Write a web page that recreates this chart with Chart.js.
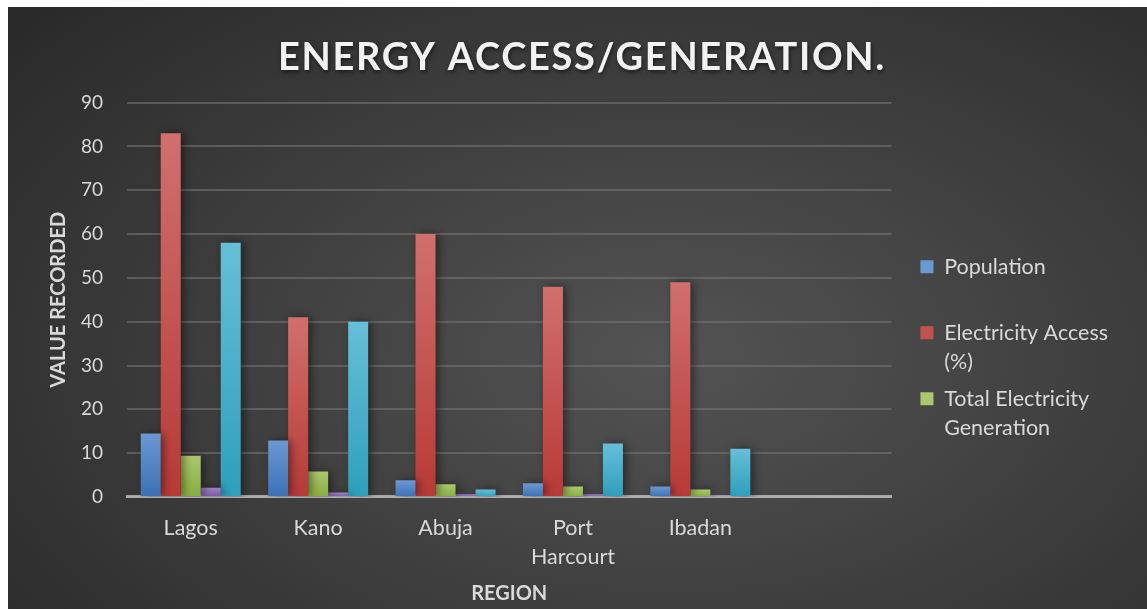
<!DOCTYPE html>
<html>
<head>
<meta charset="utf-8">
<script src="https://cdn.jsdelivr.net/npm/chart.js@4/dist/chart.umd.min.js"></script>
<style>
  html, body { margin: 0; padding: 0; background: #ffffff; }
  #wrap {
    position: absolute; left: 8px; top: 7px; width: 1139px; height: 602px;
    background: radial-gradient(ellipse 75% 85% at 58% 58%, #535353 0%, #414141 45%, #2a2a2a 100%);
  }
</style>
</head>
<body>
<div id="wrap"><canvas id="energyChart"></canvas></div>
<script>
// values
const regions = ['Lagos', 'Kano', 'Abuja', ['Port', 'Harcourt'], 'Ibadan', ''];
const population = [14.5, 12.9, 3.8, 3.1, 2.4, null];
const electricityAccess = [83, 41, 60, 48, 49, null];
const totalGeneration = [9.4, 5.8, 2.9, 2.4, 1.7, null];
const series4 = [2.1, 1.0, 0.6, 0.6, 0.35, null];
const series5 = [58, 40, 1.7, 12.2, 11, null];
const yMin = 0, yMax = 90, yStep = 10;

const textColor = '#d9d9d9';
const fontFamily = 'Lato, "Open Sans", sans-serif';

// each bar gets a lighter-top vertical gradient
function barGradient(top, bottom) {
    return (c) => {
        const chart = c.chart;
        if (!chart.chartArea || c.parsed == null) return bottom;
        const y = chart.scales.y;
        const y0 = y.getPixelForValue(0);
        const y1 = y.getPixelForValue(c.parsed.y);
        if (!isFinite(y1) || y1 === y0) return bottom;
        const g = chart.ctx.createLinearGradient(0, y1, 0, y0);
        g.addColorStop(0, top);
        g.addColorStop(1, bottom);
        return g;
    };
}

const barShadow = {
    id: 'barShadow',
    beforeDatasetsDraw(chart) {
        const ctx = chart.ctx;
        ctx.save();
        ctx.shadowColor = 'rgba(0,0,0,0.45)';
        ctx.shadowBlur = 8;
        ctx.shadowOffsetX = 3;
        ctx.shadowOffsetY = 0;
    },
    afterDatasetsDraw(chart) {
        chart.ctx.restore();
    }
};

// spaced-out title with a soft shadow, legend nudged away from the plot
const chartTweaks = {
    id: 'chartTweaks',
    afterInit(chart) {
        const tb = chart.titleBlock;
        const origDraw = tb.draw.bind(tb);
        tb.draw = function (area) {
            const ctx = this.ctx;
            ctx.save();
            ctx.translate(10, 0);
            ctx.letterSpacing = '1.7px';
            ctx.shadowColor = 'rgba(0,0,0,0.55)';
            ctx.shadowBlur = 4;
            ctx.shadowOffsetX = 1;
            ctx.shadowOffsetY = 2;
            origDraw(area);
            ctx.restore();
        };
    },
    afterLayout(chart) {
        const lg = chart.legend;
        lg.left += 21; lg.right += 21;
        lg.top += 43; lg.bottom += 43;
    }
};

new Chart(document.getElementById('energyChart'), {
    type: 'bar',
    data: {
        labels: regions,
        datasets: [{
            label: ['Population', ''],
            data: population,
            backgroundColor: barGradient('#6c98d2', '#3c70b4')
        }, {
            label: ['Electricity Access', '(%)'],
            data: electricityAccess,
            backgroundColor: barGradient('#d0706d', '#b73a37')
        }, {
            label: ['Total Electricity', 'Generation'],
            data: totalGeneration,
            backgroundColor: barGradient('#abc76f', '#88ae40')
        }, {
            label: 'Series 4',
            data: series4,
            backgroundColor: barGradient('#9c82c2', '#7858a6')
        }, {
            label: 'Series 5',
            data: series5,
            backgroundColor: barGradient('#66bfd8', '#2e9fbc')
        }]
    },
    plugins: [barShadow, chartTweaks],
    options: {
        responsive: true,
        maintainAspectRatio: false,
        animation: false,
        datasets: {
            bar: {
                categoryPercentage: 0.785,
                barPercentage: 1.0,
                borderWidth: 0
            }
        },
        layout: {
            padding: { left: 39, right: 50, top: 0, bottom: 0 }
        },
        plugins: {
            title: {
                display: true,
                text: 'ENERGY ACCESS/GENERATION.',
                color: '#f2f2f2',
                font: { family: fontFamily, size: 38, weight: 'bold' },
                padding: { top: 28, bottom: 22 }
            },
            legend: {
                position: 'right',
                align: 'center',
                labels: {
                    filter: (item) => item.datasetIndex < 3,
                    color: textColor,
                    boxWidth: 13,
                    boxHeight: 13,
                    padding: 8,
                    font: { family: fontFamily, size: 21.5, lineHeight: 1.35 }
                }
            },
            tooltip: { enabled: false }
        },
        scales: {
            x: {
                grid: { display: false, drawTicks: false },
                border: { display: true, color: 'rgba(200,200,200,0.75)', width: 3 },
                ticks: {
                    color: textColor,
                    padding: 17,
                    maxRotation: 0,
                    autoSkip: false,
                    font: { family: fontFamily, size: 21.5, lineHeight: 1.35 }
                },
                title: {
                    display: true,
                    text: 'REGION',
                    color: textColor,
                    font: { family: fontFamily, size: 20, weight: 'bold' },
                    padding: { top: -7, bottom: 3 }
                }
            },
            y: {
                min: yMin,
                max: yMax,
                grid: {
                    color: 'rgba(120,120,120,0.55)',
                    lineWidth: 2,
                    drawTicks: false
                },
                border: { display: false },
                ticks: {
                    stepSize: yStep,
                    color: textColor,
                    padding: 24,
                    font: { family: fontFamily, size: 19 }
                },
                title: {
                    display: true,
                    text: 'VALUE RECORDED',
                    color: textColor,
                    font: { family: fontFamily, size: 20, weight: 'bold' },
                    padding: { top: 0, bottom: -14 }
                }
            }
        }
    }
});
</script>
</body>
</html>
